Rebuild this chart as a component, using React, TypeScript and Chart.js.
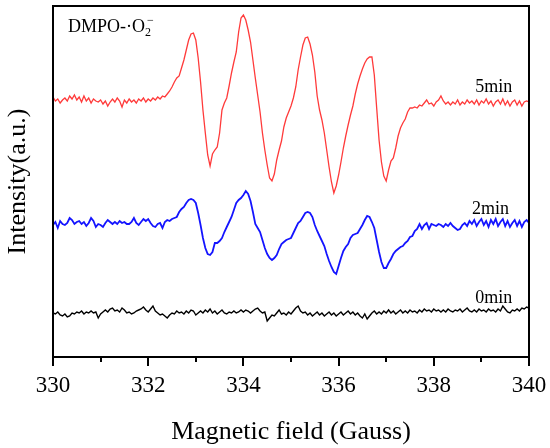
import React, { useEffect, useRef } from 'react';
import { Chart, registerables } from 'chart.js';

Chart.register(...registerables);

// magnetic field, Gauss
const field = [
  330.0, 330.05, 330.1, 330.15, 330.2, 330.25, 330.3, 330.35, 330.4, 330.45, 330.5, 330.55, 330.6, 330.65, 330.7, 330.75, 330.8, 330.85, 330.9, 330.95,
  331.0, 331.05, 331.1, 331.15, 331.2, 331.25, 331.3, 331.35, 331.4, 331.45, 331.5, 331.55, 331.6, 331.65, 331.7, 331.75, 331.8, 331.85, 331.9, 331.95,
  332.0, 332.05, 332.1, 332.15, 332.2, 332.25, 332.3, 332.35, 332.4, 332.45, 332.5, 332.55, 332.6, 332.65, 332.7, 332.75, 332.8, 332.85, 332.9, 332.95,
  333.0, 333.05, 333.1, 333.15, 333.2, 333.25, 333.3, 333.35, 333.4, 333.45, 333.5, 333.55, 333.6, 333.65, 333.7, 333.75, 333.8, 333.85, 333.9, 333.95,
  334.0, 334.05, 334.1, 334.15, 334.2, 334.25, 334.3, 334.35, 334.4, 334.45, 334.5, 334.55, 334.6, 334.65, 334.7, 334.75, 334.8, 334.85, 334.9, 334.95,
  335.0, 335.05, 335.1, 335.15, 335.2, 335.25, 335.3, 335.35, 335.4, 335.45, 335.5, 335.55, 335.6, 335.65, 335.7, 335.75, 335.8, 335.85, 335.9, 335.95,
  336.0, 336.05, 336.1, 336.15, 336.2, 336.25, 336.3, 336.35, 336.4, 336.45, 336.5, 336.55, 336.6, 336.65, 336.7, 336.75, 336.8, 336.85, 336.9, 336.95,
  337.0, 337.05, 337.1, 337.15, 337.2, 337.25, 337.3, 337.35, 337.4, 337.45, 337.5, 337.55, 337.6, 337.65, 337.7, 337.75, 337.8, 337.85, 337.9, 337.95,
  338.0, 338.05, 338.1, 338.15, 338.2, 338.25, 338.3, 338.35, 338.4, 338.45, 338.5, 338.55, 338.6, 338.65, 338.7, 338.75, 338.8, 338.85, 338.9, 338.95,
  339.0, 339.05, 339.1, 339.15, 339.2, 339.25, 339.3, 339.35, 339.4, 339.45, 339.5, 339.55, 339.6, 339.65, 339.7, 339.75, 339.8, 339.85, 339.9, 339.95,
  340.0,
];

// intensity (a.u.), curves already offset as plotted
const int0min = [
  44, 43, 45, 42, 41, 43, 40, 41, 44, 43, 45, 44, 46, 43, 45, 44, 46, 44, 45, 39,
  43, 45, 47, 45, 48, 49, 46, 47, 45, 49, 47, 44, 45, 43, 44, 46, 47, 48, 50, 47,
  45, 48, 51, 46, 44, 42, 43, 41, 39, 42, 44, 43, 46, 44, 45, 43, 46, 44, 47, 46,
  42, 44, 46, 44, 47, 45, 48, 44, 46, 43, 45, 47, 44, 43, 45, 44, 46, 44, 45, 47,
  45, 47, 46, 44, 46, 48, 49, 46, 44, 45, 36, 39, 42, 41, 44, 47, 43, 44, 42, 45,
  43, 46, 49, 51, 46, 44, 45, 42, 44, 41, 43, 45, 42, 44, 41, 43, 45, 42, 44, 41,
  43, 45, 42, 44, 46, 43, 45, 42, 44, 41, 39, 43, 38, 41, 44, 46, 43, 45, 43, 46,
  44, 47, 44, 46, 43, 45, 47, 44, 46, 44, 47, 45, 46, 44, 47, 45, 48, 46, 47, 45,
  48, 46, 47, 45, 47, 45, 48, 46, 45, 47, 46, 48, 45, 47, 49, 46, 45, 47, 45, 48,
  46, 47, 45, 48, 46, 47, 45, 48, 46, 51, 48, 45, 44, 47, 46, 48, 46, 49, 48, 50,
  49,
];

const int2min = [
  132, 135, 129, 136, 133, 132, 134, 139, 137, 133, 135, 136, 133, 135, 131, 134, 139, 136, 130, 133,
  132, 130, 134, 137, 135, 133, 135, 133, 136, 134, 135, 133, 133, 135, 139, 134, 132, 135, 138, 136,
  138, 134, 131, 130, 133, 134, 129, 135, 137, 136, 138, 139, 140, 145, 148, 150, 154, 157, 158, 157,
  154, 144, 132, 119, 109, 103, 102, 105, 114, 114, 116, 119, 125, 130, 135, 140, 147, 154, 157, 159,
  162, 166, 163, 156, 145, 133, 129, 125, 117, 109, 103, 99, 97, 99, 102, 108, 113, 115, 117, 118,
  119, 124, 129, 134, 136, 140, 144, 145, 144, 140, 132, 126, 121, 116, 111, 103, 96, 90, 85, 83,
  91, 99, 106, 110, 113, 119, 122, 123, 124, 128, 132, 137, 141, 140, 135, 129, 117, 105, 95, 89,
  89, 94, 98, 103, 106, 108, 110, 111, 114, 116, 120, 121, 126, 128, 133, 128, 132, 134, 128, 133,
  132, 131, 133, 132, 130, 133, 131, 134, 131, 129, 127, 128, 132, 134, 131, 136, 133, 137, 131, 135,
  138, 132, 136, 130, 137, 133, 138, 131, 135, 138, 131, 136, 130, 134, 137, 131, 136, 130, 135, 137,
  134,
];

const int5min = [
  260, 256, 258, 254, 257, 259, 256, 261, 258, 262, 257, 260, 255, 261, 256, 259, 254, 258, 256, 255,
  257, 253, 256, 251, 255, 258, 255, 259, 256, 250, 257, 254, 258, 255, 257, 254, 258, 256, 259, 255,
  258, 256, 259, 257, 260, 258, 261, 260, 263, 266, 270, 275, 279, 281, 289, 297, 307, 317, 323, 324,
  317, 299, 275, 247, 224, 202, 191, 203, 207, 210, 224, 247, 254, 259, 271, 284, 295, 305, 325, 339,
  342, 337, 327, 315, 297, 279, 262, 245, 224, 207, 192, 179, 176, 183, 197, 207, 216, 230, 239, 245,
  251, 259, 270, 287, 300, 312, 319, 320, 313, 302, 285, 261, 247, 237, 224, 207, 190, 175, 164, 171,
  182, 195, 209, 221, 232, 242, 251, 263, 273, 281, 288, 294, 298, 300, 300, 282, 249, 217, 195, 181,
  176, 187, 196, 199, 209, 221, 229, 234, 238, 245, 249, 249, 250, 249, 252, 251, 254, 257, 253, 254,
  251, 255, 257, 261, 256, 253, 255, 252, 255, 253, 257, 252, 255, 253, 257, 254, 256, 253, 257, 252,
  256, 254, 258, 253, 256, 251, 255, 257, 253, 258, 252, 256, 251, 255, 257, 252, 256, 251, 255, 256,
  255,
];

const seriesNames = ['0min', '2min', '5min'];
const seriesColors = ['#000000', '#1414ff', '#ff3a3a'];
const seriesWidths = [1.4, 1.8, 1.3];

const majorTicks = [330, 332, 334, 336, 338, 340];
const minorTicks = [331, 333, 335, 337, 339];

// where the time labels sit, in data units (field, intensity)
const labelAnchors = [
  { x: 338.87, y: 54 },
  { x: 338.8, y: 143 },
  { x: 338.87, y: 265 },
];

const serif = '"Liberation Serif", "Times New Roman", serif';

const decorPlugin = {
  id: 'decor',
  afterDraw(chart: any) {
    const { ctx, chartArea: a, scales } = chart;
    const x = scales.x;
    const y = scales.y;
    ctx.save();
    ctx.strokeStyle = '#000';
    ctx.lineWidth = 2;
    ctx.strokeRect(a.left, a.top, a.right - a.left, a.bottom - a.top);

    ctx.beginPath();
    majorTicks.forEach((v) => {
      const px = Math.round(x.getPixelForValue(v));
      ctx.moveTo(px, a.bottom);
      ctx.lineTo(px, a.bottom + 9);
    });
    minorTicks.forEach((v) => {
      const px = Math.round(x.getPixelForValue(v));
      ctx.moveTo(px, a.bottom);
      ctx.lineTo(px, a.bottom + 5);
    });
    ctx.stroke();

    ctx.fillStyle = '#000';
    ctx.textBaseline = 'alphabetic';
    ctx.textAlign = 'left';
    ctx.font = `18px ${serif}`;
    seriesNames.forEach((name, i) => {
      const p = labelAnchors[i];
      ctx.fillText(name, x.getPixelForValue(p.x), y.getPixelForValue(p.y));
    });

    // DMPO-·O2− tag, top left
    const tx = a.left + 15;
    const ty = a.top + 26;
    const main = 'DMPO-·O';
    ctx.fillText(main, tx, ty);
    const w = ctx.measureText(main).width;
    ctx.font = `12px ${serif}`;
    ctx.fillText('2', tx + w, ty + 4);
    ctx.fillText('\u2212', tx + w + 2, ty - 8);
    ctx.restore();
  },
};

const App: React.FC = () => {
  const canvasRef = useRef<HTMLCanvasElement>(null);
  const chartRef = useRef<Chart | null>(null);

  useEffect(() => {
    if (!canvasRef.current) return;
    if (chartRef.current) chartRef.current.destroy();

    const curves = [int0min, int2min, int5min];

    chartRef.current = new Chart(canvasRef.current, {
      type: 'line',
      data: {
        datasets: curves.map((vals, i) => ({
          label: seriesNames[i],
          data: field.map((f, k) => ({ x: f, y: vals[k] })),
          borderColor: seriesColors[i],
          borderWidth: seriesWidths[i],
          pointRadius: 0,
          tension: 0,
          fill: false,
        })),
      },
      options: {
        animation: false,
        responsive: true,
        maintainAspectRatio: false,
        layout: { padding: { top: 6, right: 21, left: 0, bottom: 0 } },
        plugins: {
          legend: { display: false },
          tooltip: { enabled: false },
        },
        scales: {
          x: {
            type: 'linear',
            min: 330,
            max: 340,
            grid: { display: false, drawTicks: false },
            border: { display: false },
            ticks: {
              stepSize: 2,
              padding: 15,
              color: '#000',
              font: { family: serif, size: 23 },
              maxRotation: 0,
              autoSkip: false,
            },
            title: {
              display: true,
              text: 'Magnetic field (Gauss)',
              color: '#000',
              font: { family: serif, size: 26 },
              padding: 0,
            },
            afterFit: (s: any) => {
              s.height = 91;
              s.paddingLeft = 0;
              s.paddingRight = 0;
            },
          },
          y: {
            min: 0,
            max: 351,
            grid: { display: false, drawTicks: false },
            border: { display: false },
            ticks: { display: false },
            title: {
              display: true,
              text: 'Intensity(a.u.)',
              color: '#000',
              font: { family: serif, size: 26 },
              padding: { top: 3, bottom: 0 },
            },
            afterFit: (s: any) => {
              s.width = 53;
            },
          },
        },
      },
      plugins: [decorPlugin],
    });

    return () => {
      if (chartRef.current) {
        chartRef.current.destroy();
        chartRef.current = null;
      }
    };
  }, []);

  return (
    <div style={{ position: 'fixed', left: 0, top: 0, width: 550, height: 448, background: '#fff' }}>
      <canvas ref={canvasRef}></canvas>
    </div>
  );
};

export default App;
